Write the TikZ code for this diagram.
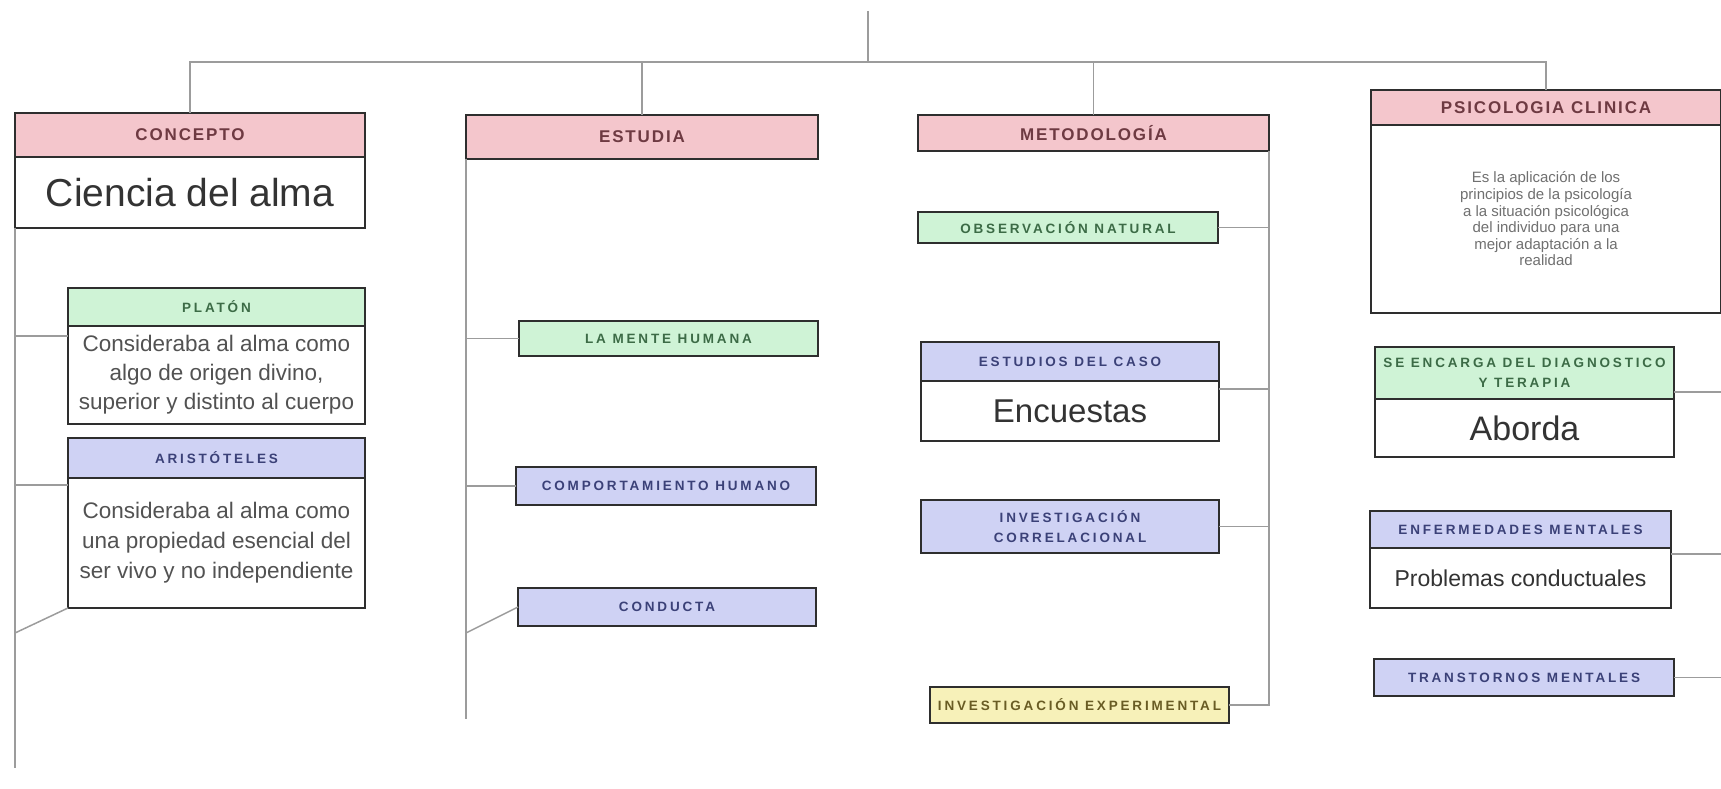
\documentclass[tikz,border=0pt]{standalone}
\usepackage{fontspec}
\setmainfont{Liberation Sans}
\newfontfamily\capsfont[LetterSpace=21]{Liberation Sans}
\newfontfamily\bigcapsfont[LetterSpace=11]{Liberation Sans}
\usetikzlibrary{positioning}

\definecolor{boxline}{HTML}{2E2E2E}
\definecolor{linkgray}{HTML}{9C9C9C}
\definecolor{pinkfill}{HTML}{F4C6CC}
\definecolor{pinktext}{HTML}{6E3A42}
\definecolor{greenfill}{HTML}{CFF3D6}
\definecolor{greentext}{HTML}{3C6B46}
\definecolor{bluefill}{HTML}{CFD2F4}
\definecolor{bluetext}{HTML}{3B4178}
\definecolor{yellowfill}{HTML}{F7F1B9}
\definecolor{yellowtext}{HTML}{695C24}
\definecolor{bodytext}{HTML}{333333}

\tikzset{
  box/.style={draw=boxline, line width=1.6pt, inner sep=0pt, outer sep=0pt, align=center},
  bighdr/.style={box, fill=pinkfill, text=pinktext, font=\bigcapsfont\bfseries\fontsize{17}{20}\selectfont},
  greenhdr/.style={box, fill=greenfill, text=greentext, font=\capsfont\bfseries\fontsize{13.5}{20}\selectfont},
  bluehdr/.style={box, fill=bluefill, text=bluetext, font=\capsfont\bfseries\fontsize{13.5}{20}\selectfont},
  yellowhdr/.style={box, fill=yellowfill, text=yellowtext, font=\capsfont\bfseries\fontsize{13.5}{20}\selectfont},
  bodybox/.style={box, fill=white, text=bodytext},
  link/.style={draw=linkgray, line width=1.5pt},
}

\begin{document}
\begin{tikzpicture}[x=1pt, y=-1pt]
    \useasboundingbox (0,0) rectangle (1721,789);

    % column 1
    \node[bighdr, anchor=north west, minimum width=350pt, minimum height=44pt] (concepto) at (15,113) {CONCEPTO};
    \node[bodybox, minimum width=350pt, minimum height=71pt, below=0pt of concepto, font=\fontsize{39}{44}\selectfont] (ciencia) {Ciencia del alma};
    \node[greenhdr, anchor=north west, minimum width=297pt, minimum height=38pt] (platon) at (68,288) {PLATÓN};
    \node[bodybox, minimum width=297pt, minimum height=98pt, below=0pt of platon, text=bodytext!85, font=\fontsize{22.5}{29}\selectfont] (platontxt) {Consideraba al alma como\\algo de origen divino,\\superior y distinto al cuerpo};
    \node[bluehdr, anchor=north west, minimum width=297pt, minimum height=40pt] (aris) at (68,438) {ARISTÓTELES};
    \node[bodybox, minimum width=297pt, minimum height=130pt, below=0pt of aris, text=bodytext!85, font=\fontsize{22.5}{30}\selectfont] (aristxt) {Consideraba al alma como\\una propiedad esencial del\\ser vivo y no independiente};

    % column 2
    \node[bighdr, anchor=north west, minimum width=352pt, minimum height=44pt] (estudia) at (466,115) {ESTUDIA};
    \node[greenhdr, anchor=north west, minimum width=299pt, minimum height=35pt] (mente) at (519,321) {LA MENTE HUMANA};
    \node[bluehdr, anchor=north west, minimum width=300pt, minimum height=38pt] (comport) at (516,467) {COMPORTAMIENTO HUMANO};
    \node[bluehdr, anchor=north west, minimum width=298pt, minimum height=38pt] (conducta) at (518,588) {CONDUCTA};

    % column 3
    \node[bighdr, anchor=north west, minimum width=351pt, minimum height=36pt] (metodo) at (918,115) {METODOLOGÍA};
    \node[greenhdr, anchor=north west, minimum width=300pt, minimum height=31pt] (observ) at (918,212) {OBSERVACIÓN NATURAL};
    \node[bluehdr, anchor=north west, minimum width=298pt, minimum height=39pt] (caso) at (921,342) {ESTUDIOS DEL CASO};
    \node[bodybox, minimum width=298pt, minimum height=60pt, below=0pt of caso, font=\fontsize{33}{38}\selectfont] (encuestas) {Encuestas};
    \node[bluehdr, anchor=north west, minimum width=298pt, minimum height=53pt] (correl) at (921,500) {INVESTIGACIÓN\\CORRELACIONAL};
    \node[yellowhdr, anchor=north west, minimum width=299pt, minimum height=36pt] (experim) at (930,687) {INVESTIGACIÓN EXPERIMENTAL};

    % column 4
    \node[bighdr, anchor=north west, minimum width=350pt, minimum height=35pt] (clinica) at (1371,90) {PSICOLOGIA CLINICA};
    \node[bodybox, minimum width=350pt, minimum height=188pt, below=0pt of clinica, text=bodytext!70, font=\fontsize{15}{16.6}\selectfont] (clinicatxt) {Es la aplicación de los\\principios de la psicología\\a la situación psicológica\\del individuo para una\\mejor adaptación a la\\realidad};
    \node[greenhdr, anchor=north west, minimum width=299pt, minimum height=52pt] (encarga) at (1375,347) {SE ENCARGA DEL DIAGNOSTICO\\Y TERAPIA};
    \node[bodybox, minimum width=299pt, minimum height=58pt, below=0pt of encarga, font=\fontsize{34}{38}\selectfont] (aborda) {Aborda};
    \node[bluehdr, anchor=north west, minimum width=301pt, minimum height=37pt] (enferm) at (1370,511) {ENFERMEDADES MENTALES};
    \node[bodybox, minimum width=301pt, minimum height=60pt, below=0pt of enferm, font=\fontsize{23}{27}\selectfont] (problemas) {Problemas conductuales};
    \node[bluehdr, anchor=north west, minimum width=300pt, minimum height=37pt] (transt) at (1374,659) {TRANSTORNOS MENTALES};

    % trunk
    \coordinate (root) at (868,11);
    \coordinate (bar) at (868,62);
    \coordinate (edge) at (1721,0);
    \draw[link] (root) -- (bar);
    \draw[link] (concepto.north) -- (concepto.north |- bar) -- (clinica.north |- bar) -- (clinica.north);
    \draw[link] (estudia.north) -- (estudia.north |- bar);
    \draw[link] (metodo.north) -- (metodo.north |- bar);

    % column 1 links
    \coordinate (spinea) at (15,768);
    \coordinate (jplaton) at (15,336);
    \coordinate (jaris) at (15,485);
    \coordinate (jarislow) at (15,633);
    \draw[link] (ciencia.south west) -- (spinea);
    \draw[link] (jplaton) -- (jplaton -| platontxt.west);
    \draw[link] (jaris) -- (jaris -| aristxt.west);
    \draw[link] (jarislow) -- (aristxt.south west);

    % column 2 links
    \coordinate (spineb) at (466,719);
    \coordinate (jconducta) at (466,633);
    \draw[link] (estudia.south west) -- (spineb);
    \draw[link] (mente.west) -- (mente.west -| estudia.south west);
    \draw[link] (comport.west) -- (comport.west -| estudia.south west);
    \draw[link] (jconducta) -- (conducta.west);

    % column 3 links
    \coordinate (jcaso) at (1269,389);
    \draw[link] (metodo.south east) |- (experim.east);
    \draw[link] (observ.east) -- (observ.east -| metodo.south east);
    \draw[link] (jcaso) -- (jcaso -| encuestas.east);
    \draw[link] (correl.east) -- (correl.east -| metodo.south east);

    % column 4 links
    \coordinate (jencarga) at (1721,392);
    \coordinate (jenferm) at (1721,554);
    \draw[link] (jencarga) -- (jencarga -| encarga.east);
    \draw[link] (jenferm) -- (jenferm -| problemas.east);
    \draw[link] (transt.east) -- (transt.east -| edge);

\end{tikzpicture}
\end{document}
